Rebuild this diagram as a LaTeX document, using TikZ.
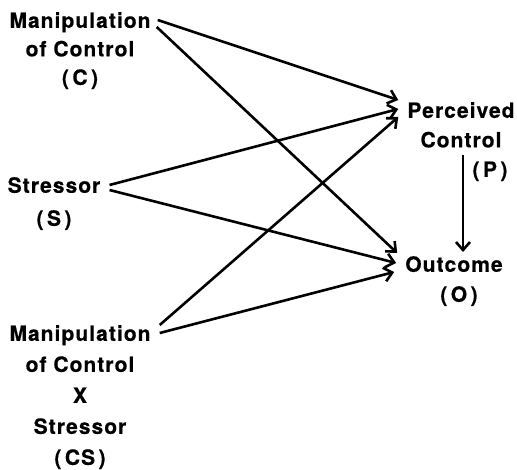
\documentclass[tikz,border=0pt]{standalone}
\usepackage{fontspec}
\usetikzlibrary{arrows.meta}
\newfontfamily\labelfont{TeX Gyre Heros}[LetterSpace=5,FakeBold=0.5]
\tikzset{
	lbl/.style={align=center, inner sep=0pt, anchor=north,
		font=\labelfont\bfseries\fontsize{21}{#1}\selectfont},
	lbl/.default=30,
	path/.style={line width=2.6pt, -{Straight Barb[length=8pt,width=14pt,line width=2.6pt]}}
}
\begin{document}
\begin{tikzpicture}[x=1pt,y=-1pt]
		\useasboundingbox (0,0) rectangle (517,470);

		\node[lbl=28.5] (C) at (80,12) {Manipulation\\of Control\\(\,C\,)};
		\node[lbl=33] (S) at (54,177) {Stressor\\(\,S\,)};
		\node[lbl=31] (CS) at (80,325) {Manipulation\\of Control\\X\\Stressor\\(\,CS\,)};
		\node[lbl=29.5] (P) at (461,102) {Perceived\\Control\\\hspace*{58pt}(\,P\,)};
		\node[lbl=30] (O) at (454,256) {Outcome\\\hspace*{10pt}(\,O\,)};

		\draw[path] ([shift={(7,8)}]C.north east) -- ([shift={(-9,-2)}]P.north west);
		\draw[path] ([shift={(6,15)}]C.north east) -- ([shift={(-8,-3)}]O.north west);
		\draw[path] ([shift={(9,8)}]S.north east) -- ([shift={(-9,7)}]P.north west);
		\draw[path] ([shift={(9,13)}]S.north east) -- ([shift={(-9,7)}]O.north west);
		\draw[path] ([shift={(9,0)}]CS.north east) -- ([shift={(-9,15)}]P.north west);
		\draw[path] ([shift={(9,8)}]CS.north east) -- ([shift={(-11,16)}]O.north west);

		\draw[path] ([shift={(2,53)}]P.north) -- ([shift={(9,-4)}]O.north);
	\end{tikzpicture}
\end{document}
